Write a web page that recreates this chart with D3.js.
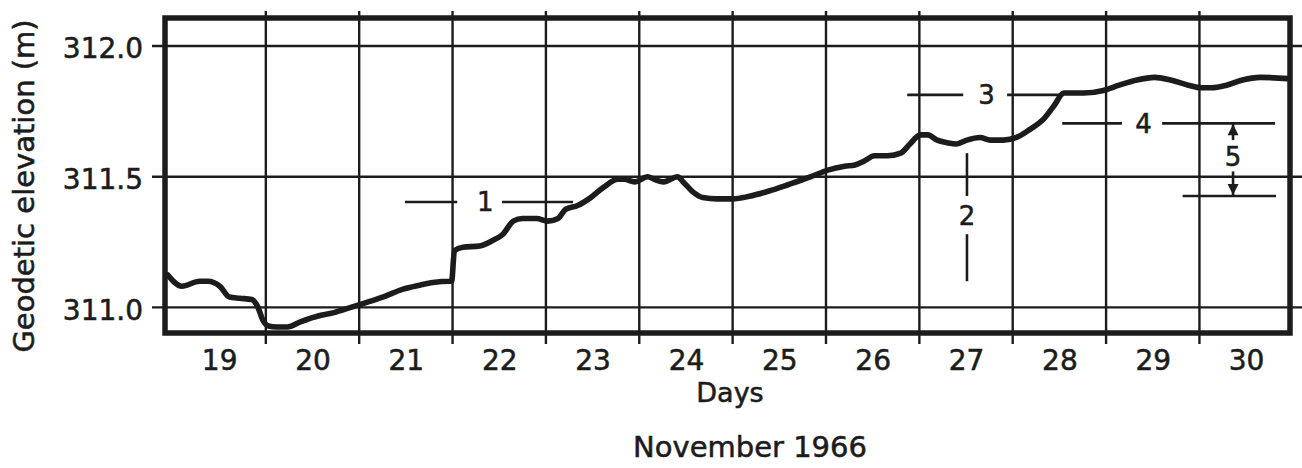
<!DOCTYPE html>
<html>
<head>
<meta charset="utf-8">
<script src="https://cdn.jsdelivr.net/npm/d3@7"></script>
<style>
  html, body { margin: 0; padding: 0; background: #fff; }
  svg { display: block; }
  text { font-family: "DejaVu Sans", "Liberation Sans", sans-serif; fill: #1c1c1c;
         stroke: #1c1c1c; stroke-width: 0.55px; }
</style>
</head>
<body>
<svg id="chart" width="1302" height="468"></svg>
<script>
// Day-of-month labels along the bottom (November 1966)
const dayLabels = [19, 20, 21, 22, 23, 24, 25, 26, 27, 28, 29, 30];
// Day boundaries drawn as vertical grid lines
const dayBoundaries = [20, 21, 22, 23, 24, 25, 26, 27, 28, 29, 30];
// Elevation tick values (m)
const elevTicks = [311.0, 311.5, 312.0];

// Recorded geodetic elevation: time (day of month) and elevation (m)
const time = [18.95, 19.10, 19.29, 19.38, 19.51, 19.61, 19.72, 19.85, 19.91, 19.97,
  20.02, 20.12, 20.23, 20.37, 20.59, 20.73, 20.91, 21.09, 21.26, 21.47,
  21.65, 21.79, 21.97, 21.99, 22.02, 22.11, 22.29, 22.43, 22.54, 22.65,
  22.75, 22.90, 23.02, 23.13, 23.21, 23.34, 23.48, 23.62, 23.77, 23.84,
  23.95, 24.09, 24.16, 24.26, 24.41, 24.47, 24.58, 24.68, 24.83, 25.00,
  25.18, 25.39, 25.60, 25.84, 26.02, 26.20, 26.31, 26.41, 26.52, 26.66,
  26.80, 26.90, 27.01, 27.09, 27.19, 27.30, 27.40, 27.51, 27.65, 27.76,
  27.90, 28.04, 28.18, 28.33, 28.44, 28.55, 28.76, 28.97, 29.14, 29.33,
  29.52, 29.69, 29.88, 30.02, 30.13, 30.29, 30.46, 30.65, 30.95];
const elevation = [311.124, 311.081, 311.100, 311.100, 311.080, 311.040, 311.035, 311.030, 311.005, 310.950,
  310.930, 310.925, 310.925, 310.945, 310.970, 310.980, 311.000, 311.020, 311.040, 311.070,
  311.085, 311.095, 311.100, 311.100, 311.217, 311.230, 311.235, 311.256, 311.280, 311.330,
  311.340, 311.340, 311.330, 311.340, 311.375, 311.390, 311.420, 311.460, 311.490, 311.490,
  311.480, 311.500, 311.490, 311.480, 311.500, 311.480, 311.440, 311.420, 311.415, 311.415,
  311.425, 311.445, 311.470, 311.500, 311.525, 311.540, 311.545, 311.560, 311.580, 311.580,
  311.590, 311.625, 311.660, 311.660, 311.640, 311.630, 311.625, 311.640, 311.650, 311.640,
  311.640, 311.650, 311.680, 311.720, 311.770, 311.820, 311.820, 311.830, 311.850, 311.870,
  311.880, 311.870, 311.850, 311.840, 311.840, 311.850, 311.870, 311.880, 311.875];

// Numbered reference levels: horizontal bars split by their label (day, elevation)
const levelBars = [
  { label: "1", elev: 311.403, left: [21.49, 22.05], at: 22.35, right: [22.53, 23.29] },
  { label: "3", elev: 311.813, left: [26.87, 27.47], at: 27.72, right: [27.94, 28.50] },
  { label: "4", elev: 311.704, left: [28.53, 29.17], at: 29.40, right: [29.60, 30.81] }
];
// Reference 2: vertical bar split by its label (day, elevation)
const bar2 = { label: "2", day: 27.51, top: [311.59, 311.426], at: 311.35, bottom: [311.28, 311.10] };
// Reference 5: span between level 4 and a lower level, marked with arrows
const bar5 = { label: "5", day: 30.36, upper: 311.704, lower: 311.426, at: 311.575,
  upperGap: 311.64, lowerGap: 311.52, lowerBar: [29.82, 30.82] };

const ink = "#1c1c1c";
const svg = d3.select("#chart");

const x = d3.scaleLinear().domain([18.92, 30.97]).range([165, 1290]);
const y = d3.scaleLinear().domain([310.902, 312.107]).range([333, 18]);

// Horizontal grid lines at the elevation ticks, running past the frame
svg.append("g").selectAll("line").data(elevTicks).join("line")
  .attr("x1", 152).attr("x2", 1302)
  .attr("y1", d => y(d)).attr("y2", d => y(d))
  .attr("stroke", ink).attr("stroke-width", 2.4);

// Vertical grid lines at day boundaries, poking out above and below the frame
svg.append("g").selectAll("line").data(dayBoundaries).join("line")
  .attr("x1", d => x(d)).attr("x2", d => x(d))
  .attr("y1", 11).attr("y2", 344)
  .attr("stroke", ink).attr("stroke-width", 2.4);

// Plot frame
svg.append("rect")
  .attr("x", x.range()[0]).attr("y", y.range()[1])
  .attr("width", x.range()[1] - x.range()[0])
  .attr("height", y.range()[0] - y.range()[1])
  .attr("fill", "none").attr("stroke", ink).attr("stroke-width", 5.5);

// Elevation labels
const yAxis = svg.append("g")
  .attr("transform", "translate(143,3)")
  .call(d3.axisLeft(y).tickValues(elevTicks).tickFormat(d3.format(".1f")).tickSize(0).tickPadding(0));
yAxis.select(".domain").remove();
yAxis.selectAll("text").style("font-size", "28px").style("font-family", "DejaVu Sans, sans-serif").attr("fill", ink);

// Day labels centred in each day
const xAxis = svg.append("g")
  .attr("transform", "translate(0,343)")
  .call(d3.axisBottom(x).tickValues(dayLabels.map(d => d + 0.5))
    .tickFormat(d => String(Math.round(d - 0.5))).tickSize(0).tickPadding(7));
xAxis.select(".domain").remove();
xAxis.selectAll("text").style("font-size", "28px").style("font-family", "DejaVu Sans, sans-serif").attr("fill", ink);

// Axis titles
svg.append("text").attr("x", 730).attr("y", 402)
  .attr("text-anchor", "middle").style("font-size", "27px").text("Days");
svg.append("text").attr("x", 750).attr("y", 457)
  .attr("text-anchor", "middle").style("font-size", "29px").text("November 1966");
svg.append("text")
  .attr("transform", "translate(34,186) rotate(-90)")
  .attr("text-anchor", "middle").style("font-size", "29px")
  .text("Geodetic elevation (m)");

// Elevation record
const line = d3.line()
  .x(d => x(d[0])).y(d => y(d[1]))
  .curve(d3.curveMonotoneX);
svg.append("path")
  .datum(d3.zip(time, elevation))
  .attr("d", line)
  .attr("fill", "none").attr("stroke", ink)
  .attr("stroke-width", 5.6).attr("stroke-linejoin", "round").attr("stroke-linecap", "round");

// Reference annotations
const ann = svg.append("g").attr("stroke", ink).attr("stroke-width", 2.6);
const labelSize = "26px";

levelBars.forEach(b => {
  [b.left, b.right].forEach(seg => {
    ann.append("line")
      .attr("x1", x(seg[0])).attr("x2", x(seg[1]))
      .attr("y1", y(b.elev)).attr("y2", y(b.elev));
  });
  svg.append("text").attr("x", x(b.at)).attr("y", y(b.elev))
    .attr("text-anchor", "middle").attr("dy", "0.36em")
    .style("font-size", labelSize).text(b.label);
});

[bar2.top, bar2.bottom].forEach(seg => {
  ann.append("line")
    .attr("x1", x(bar2.day)).attr("x2", x(bar2.day))
    .attr("y1", y(seg[0])).attr("y2", y(seg[1]));
});
svg.append("text").attr("x", x(bar2.day)).attr("y", y(bar2.at))
  .attr("text-anchor", "middle").attr("dy", "0.36em")
  .style("font-size", labelSize).text(bar2.label);

// Reference 5 arrows and the lower bar
const x5 = x(bar5.day);
ann.append("line").attr("x1", x5).attr("x2", x5)
  .attr("y1", y(bar5.upper)).attr("y2", y(bar5.upperGap));
ann.append("line").attr("x1", x5).attr("x2", x5)
  .attr("y1", y(bar5.lowerGap)).attr("y2", y(bar5.lower));
ann.append("line")
  .attr("x1", x(bar5.lowerBar[0])).attr("x2", x(bar5.lowerBar[1]))
  .attr("y1", y(bar5.lower)).attr("y2", y(bar5.lower));
const tipUp = y(bar5.upper) + 1, tipDown = y(bar5.lower) - 1;
svg.append("path")
  .attr("d", `M${x5},${tipUp} L${x5 - 5.5},${tipUp + 11} L${x5 + 5.5},${tipUp + 11} Z`)
  .attr("fill", ink);
svg.append("path")
  .attr("d", `M${x5},${tipDown} L${x5 - 5.5},${tipDown - 11} L${x5 + 5.5},${tipDown - 11} Z`)
  .attr("fill", ink);
svg.append("text").attr("x", x5).attr("y", y(bar5.at))
  .attr("text-anchor", "middle").attr("dy", "0.36em")
  .style("font-size", labelSize).text(bar5.label);
</script>
</body>
</html>
